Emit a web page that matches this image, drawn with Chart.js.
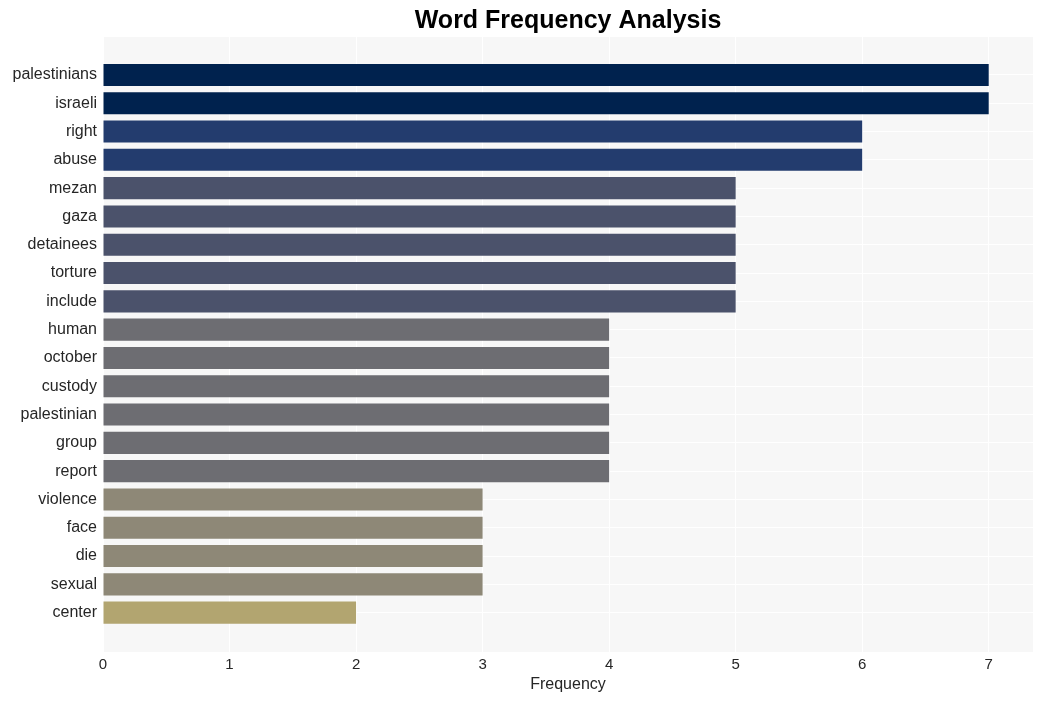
<!DOCTYPE html>
<html>
<head>
<meta charset="utf-8">
<script src="https://cdn.jsdelivr.net/npm/chart.js@4/dist/chart.umd.min.js"></script>
<style>
html,body{margin:0;padding:0;background:#fff;}
#wrap{width:1042px;height:701px;position:relative;}
</style>
</head>
<body>
<div id="wrap"><canvas id="c" width="1042" height="701"></canvas></div>
<script>
const words = ["palestinians","israeli","right","abuse","mezan","gaza","detainees","torture","include","human","october","custody","palestinian","group","report","violence","face","die","sexual","center"];
const counts = [7,7,6,6,5,5,5,5,5,4,4,4,4,4,4,3,3,3,3,2];
const colorByCount = {7:"#00224e",6:"#233c6e",5:"#4b526b",4:"#6d6d72",3:"#8e8877",2:"#b2a570"};
const xTicks = [0,1,2,3,4,5,6,7];

const points = counts.map((v,i)=>({x:v,y:i}));

const bgPlugin = {
  id:'bg',
  beforeDraw(chart){
    const {ctx, chartArea:a} = chart;
    ctx.save();
    ctx.fillStyle = '#f7f7f7';
    ctx.fillRect(a.left, a.top, a.right-a.left, a.bottom-a.top);
    ctx.restore();
  }
};

const FONT = '"Liberation Sans", Arial, sans-serif';

new Chart(document.getElementById('c'), {
  type:'bar',
  data:{
    datasets:[{
      data: points,
      backgroundColor: counts.map(v=>colorByCount[v]),
      borderWidth:0,
      inflateAmount:0,
      barPercentage:0.78,
      categoryPercentage:1
    }]
  },
  options:{
    indexAxis:'y',
    responsive:false,
    animation:false,
    layout:{padding:{left:0,right:9,top:0,bottom:0}},
    plugins:{
      legend:{display:false},
      tooltip:{enabled:false},
      title:{
        display:true,
        text:'Word Frequency Analysis',
        fullSize:false,
        color:'#000',
        font:{family:FONT, size:25, weight:'bold'},
        padding:{top:6,bottom:1}
      }
    },
    scales:{
      x:{
        type:'linear',
        min:0, max:7.35,
        afterBuildTicks: ax => { ax.ticks = xTicks.map(v=>({value:v})); },
        ticks:{color:'#262626', font:{family:FONT, size:15}, padding:4, maxRotation:0},
        grid:{color:'#ffffff', lineWidth:1, drawTicks:false},
        border:{display:false},
        title:{display:true, text:'Frequency', color:'#262626', font:{family:FONT, size:16}, padding:{top:0,bottom:7}},
        afterFit: s => { s.height = 49; }
      },
      y:{
        type:'linear',
        reverse:true,
        offset:false,
        min:-1.34, max:20.39,
        afterBuildTicks: ax => { ax.ticks = words.map((w,i)=>({value:i})); },
        ticks:{
          color:'#262626',
          font:{family:FONT, size:16},
          padding:6,
          autoSkip:false,
          callback: v => words[v]
        },
        grid:{color:'#ffffff', lineWidth:1, drawTicks:false, offset:false},
        border:{display:false},
        afterFit: s => { s.width = 103; }
      }
    }
  },
  plugins:[bgPlugin]
});
</script>
</body>
</html>
